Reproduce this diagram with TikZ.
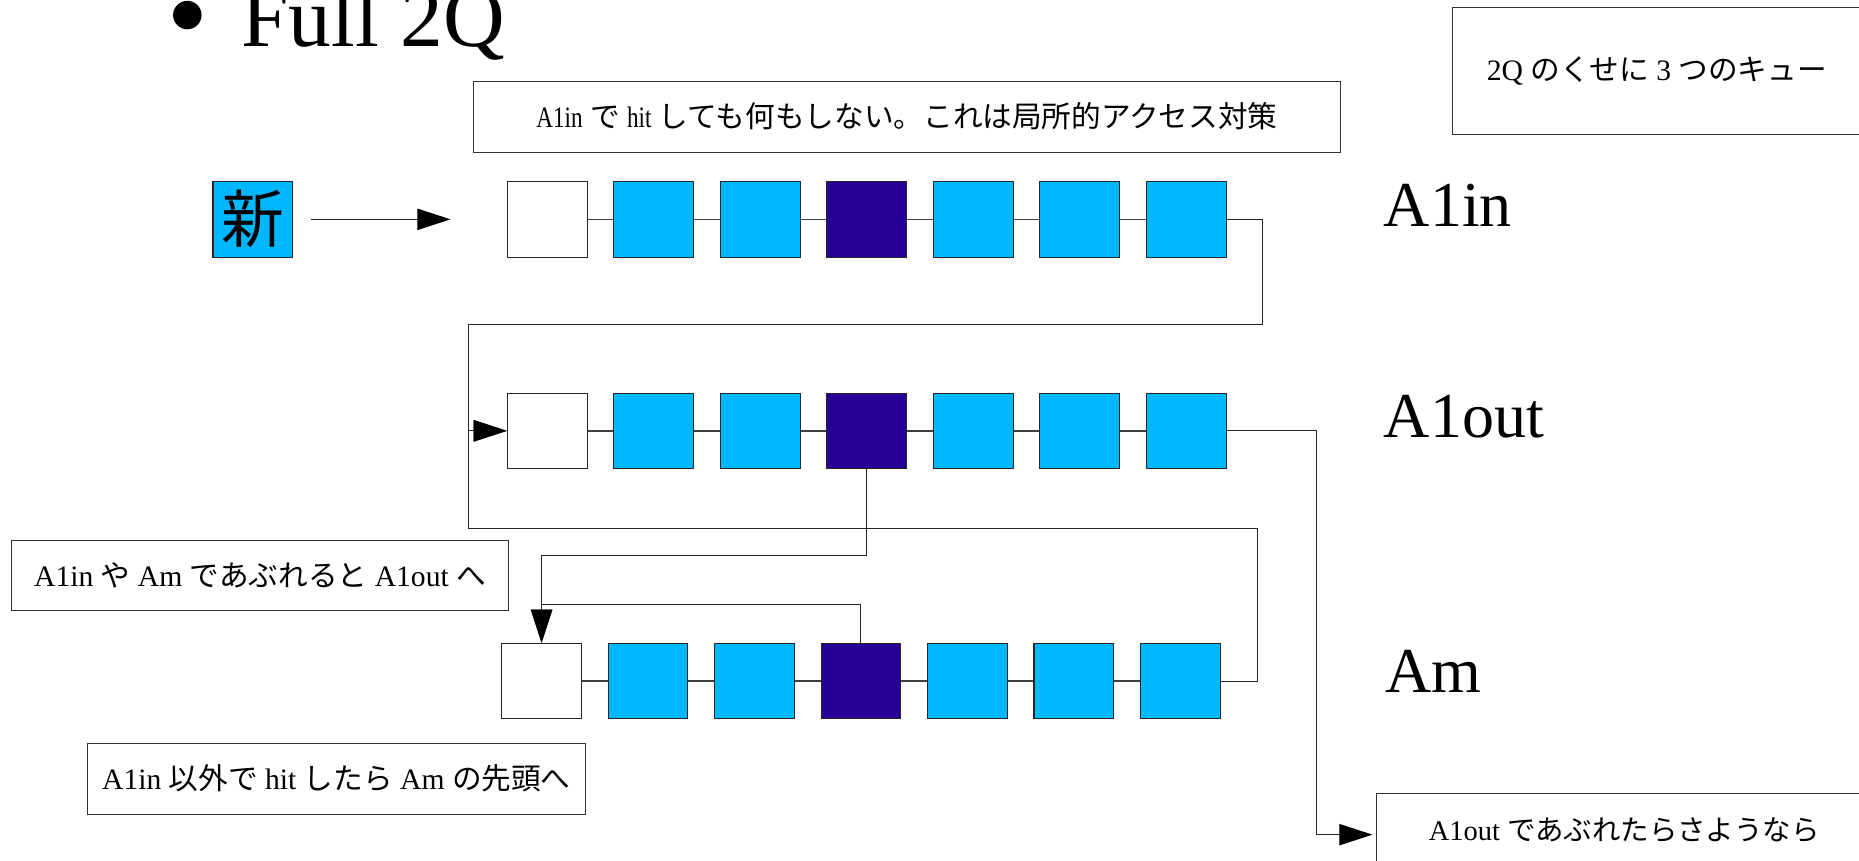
\documentclass[tikz,border=0pt]{standalone}
\usepackage{fontspec}
\setmainfont{Liberation Serif}
\newfontfamily\jp{Noto Sans CJK JP}
\usetikzlibrary{arrows.meta}
\definecolor{qcyan}{RGB}{0,184,255}
\definecolor{qdark}{RGB}{40,0,150}
\newcommand{\J}[1]{{\jp #1}}
\newcommand{\cn}[1]{\scalebox{0.78}[1]{#1}}
\begin{document}
\begin{tikzpicture}[x=1pt,y=-1pt,
  qbox/.style={draw=black!85, line width=0.9pt, minimum width=67.3pt, minimum height=63.6pt, inner sep=0pt},
  link/.style={draw=black!75, line width=1.2pt},
  conn/.style={draw=black!85, line width=0.85pt},
  tip/.style={-{Triangle[length=28pt,width=18pt,color=black]}},
  note/.style={draw=black!80, line width=0.8pt, inner sep=0pt, font=\fontsize{25}{30}\selectfont},
  big/.style={anchor=base west, inner sep=0pt, font=\fontsize{54}{60}\selectfont}]
\useasboundingbox (0,0) rectangle (1568,726);

% title
\node[circle, fill=black, inner sep=0pt, minimum size=24pt] (bul) at (158,12.7) {};
\node[anchor=base west, inner sep=0pt, font=\fontsize{72}{80}\selectfont] (title) at (203.5,39.4) {Full 2Q};

% queues
\foreach \c [count=\i] in {white,qcyan,qcyan,qdark,qcyan,qcyan,qcyan} {
  \node[qbox, fill=\c] (a\i) at ({461.6+89.83*(\i-1)},185) {};
  \node[qbox, fill=\c] (b\i) at ({461.6+89.83*(\i-1)},363.4) {};
  \node[qbox, fill=\c] (m\i) at ({456.8+89.8*(\i-1)},574.4) {};
}
\foreach \i/\j in {1/2,2/3,3/4,4/5,5/6,6/7} {
  \draw[link] (a\i) -- (a\j);
  \draw[link] (b\i) -- (b\j);
  \draw[link] (m\i) -- (m\j);
}

% new element
\node[qbox, fill=qcyan, minimum height=64pt, font=\jp\fontsize{53}{53}\selectfont] (new) at (213.3,184.8) {新};
\coordinate (ns) at (262.5,185);
\coordinate (ne) at (380,185);
\draw[conn,tip] (ns) -- (ne);

% labels
\node[big] (lA1in) at (1167,191) {A1in};
\node[big] (lA1out) at (1167,369) {A1out};
\node[big] (lAm) at (1168,584.5) {Am};

% notes
\node[note, minimum width=732pt, minimum height=60.2pt] (hitA1) at (765,98.4)
  {\cn{A1in} \J{で} \cn{hit} \J{しても何もしない。これは局所的アクセス対策}};
\node[note, minimum width=345pt, minimum height=106.8pt] (three) at (1397.5,59.6)
  {2Q \J{のくせに} 3 \J{つのキュー}};
\node[note, minimum width=419.3pt, minimum height=59.3pt] (ovf) at (219.35,485.65)
  {A1in \J{や} Am \J{であぶれると} A1out \J{へ}};
\node[note, minimum width=419.4pt, minimum height=59.6pt] (hitAm) at (283.7,656.8)
  {A1in \J{以外で} hit \J{したら} Am \J{の先頭へ}};
\node[note, minimum width=418pt, minimum height=62pt, font=\fontsize{24}{29}\selectfont] (out) at (1370,700)
  {A1out \J{であぶれたらさようなら}};

% connectors
\draw[conn,tip] (a7.east) -- (1065,185) -- (1065,273.9) -- (395.5,273.9) |- (b1.west);
\draw[conn,tip] (m7.east) -- (1060.5,574.4) -- (1060.5,445.6) -- (395.5,445.6) |- (b1.west);
\draw[conn,tip,shorten >=3pt] (b7.east) -- (1110.4,363.4) |- ([yshift=-4pt]out.west);
\draw[conn,tip] (b4.south) -- ++(0,72.9) -| (m1.north);
\draw[conn,tip] (m4.north) -- ++(0,-32) -| (m1.north);
\end{tikzpicture}
\end{document}
